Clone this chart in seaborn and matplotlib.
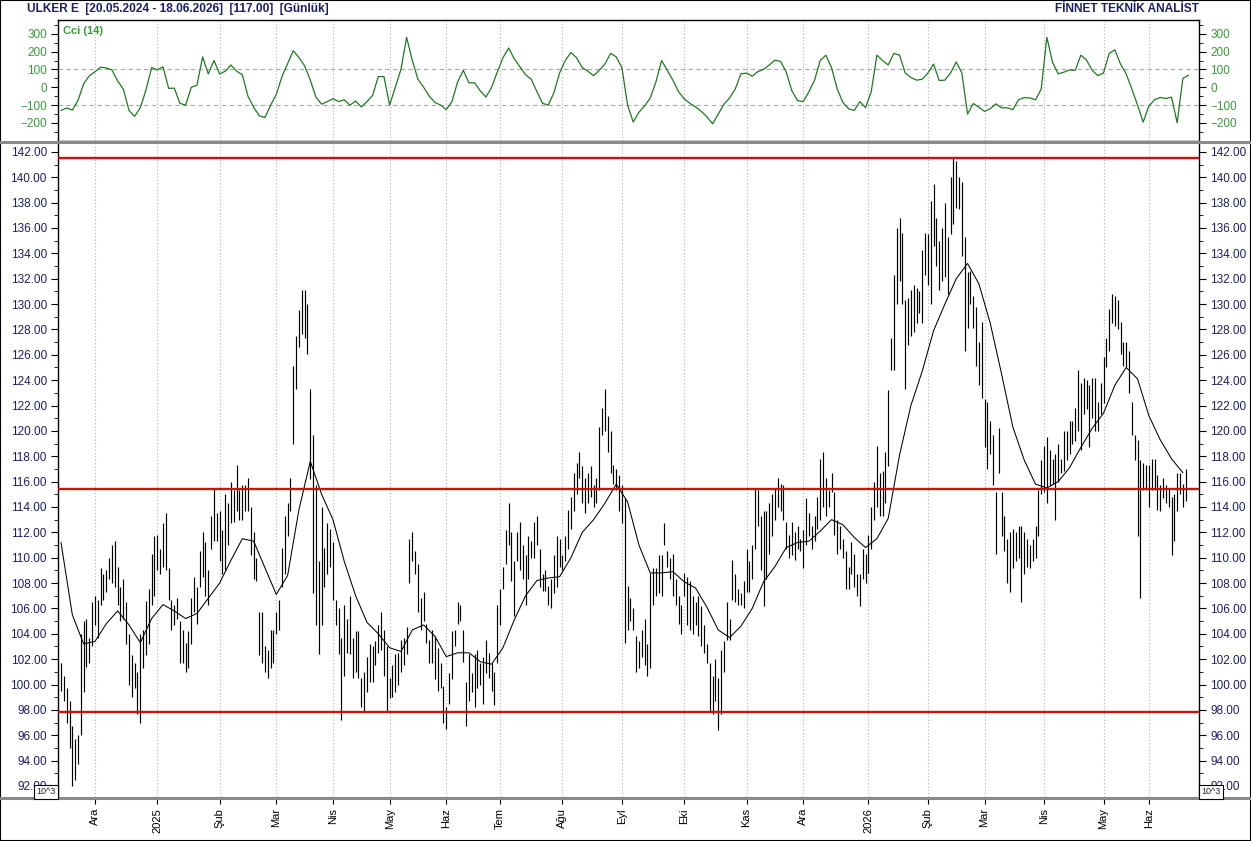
import numpy as np
import pandas as pd
import matplotlib
matplotlib.use("Agg")
import matplotlib.pyplot as plt
from matplotlib.lines import Line2D
from matplotlib.patches import Rectangle
import seaborn as sns

# ---- data ----
month_labels = ["Ara", "2025", "Şub", "Mar", "Nis", "May", "Haz", "Tem", "Ağu", "Eyl",
                "Eki", "Kas", "Ara", "2026", "Şub", "Mar", "Nis", "May", "Haz"]
# trading days per month segment (first one = end of Nov 2024)
month_bars = [12, 22, 22, 20, 20, 20, 20, 19, 22, 21, 22, 22, 20, 23, 21, 20, 21, 21, 16, 14]

# daily (low, high) bars
bars_hl = [
    # Nov 2024
    (99.5, 101.7), (98.7, 100.7), (97.0, 99.7), (95.0, 98.7), (92.0, 96.7), (92.5, 95.7),
    (93.7, 96.0), (96.0, 104.0), (99.4, 105.0), (101.4, 105.2), (101.7, 103.7), (103.0, 106.5),
    # Dec 2024
    (104.7, 107.0), (103.7, 106.7), (106.3, 109.2), (106.7, 108.7), (107.3, 109.0), (108.3, 110.0),
    (108.0, 111.0), (107.7, 111.3), (106.3, 109.3), (105.0, 107.7), (105.2, 108.3), (103.2, 106.5),
    (100.0, 104.0), (99.0, 102.3), (99.7, 101.7), (97.7, 101.0), (97.0, 104.0), (101.3, 104.3),
    (102.3, 106.6), (103.2, 107.5), (106.3, 110.3), (107.0, 111.7),
    # Jan 2025
    (109.0, 111.8), (108.7, 110.7), (109.3, 112.7), (109.0, 113.5), (106.7, 109.2), (104.3, 106.7),
    (104.7, 106.3), (105.2, 106.8), (101.7, 105.0), (101.7, 104.3), (101.0, 103.3), (101.3, 104.2),
    (103.2, 106.8), (105.7, 108.5), (104.8, 107.7), (107.7, 110.5), (108.5, 112.0), (107.0, 111.2),
    (106.3, 109.0), (110.7, 113.3), (111.3, 115.5), (111.3, 113.5),
    # Feb 2025
    (109.7, 113.7), (108.7, 112.2), (109.0, 115.0), (111.0, 114.3), (112.7, 116.0), (112.8, 115.3),
    (113.7, 117.3), (113.0, 115.3), (113.0, 115.7), (113.7, 115.7), (113.7, 116.3), (110.2, 114.0),
    (108.3, 112.0), (108.2, 110.0), (102.3, 105.7), (101.7, 105.7), (101.0, 103.0), (100.5, 102.7),
    (101.3, 104.3), (101.7, 104.3),
    # Mar 2025
    (104.0, 105.7), (104.3, 106.7), (107.7, 110.8), (108.7, 113.3), (111.7, 114.3), (113.7, 116.3),
    (119.0, 125.1), (123.3, 127.5), (126.6, 129.5), (127.6, 131.1), (127.3, 131.1), (126.1, 130.0),
    (116.2, 123.3), (107.2, 119.7), (104.7, 115.7), (102.4, 109.7), (104.7, 114.0), (107.7, 110.8),
    (108.7, 112.7), (109.3, 112.3),
    # Apr 2025
    (106.7, 111.2), (104.7, 106.7), (102.4, 106.0), (97.2, 103.7), (100.7, 106.3), (102.5, 105.2),
    (102.4, 107.0), (100.5, 103.7), (101.0, 104.2), (100.5, 104.2), (98.2, 100.5), (97.9, 101.0),
    (99.4, 102.2), (100.2, 103.2), (100.2, 103.0), (101.5, 103.4), (102.5, 104.7), (102.7, 105.7),
    (100.7, 104.3), (97.9, 103.0),
    # May 2025
    (98.9, 100.5), (99.0, 101.5), (99.4, 102.4), (100.0, 102.5), (101.0, 103.5), (101.5, 103.7),
    (102.4, 104.5), (108.0, 111.5), (109.7, 112.0), (108.7, 110.5), (105.7, 109.5), (104.3, 106.8),
    (105.0, 107.3), (103.3, 104.8), (101.7, 103.5), (101.7, 104.3), (100.4, 103.8), (99.5, 102.9),
    (99.7, 101.7), (97.0, 99.9),
    # Jun 2025
    (96.5, 98.2), (98.5, 100.9), (100.4, 104.2), (103.0, 104.3), (104.8, 106.5), (105.0, 106.3),
    (101.8, 104.3), (96.7, 100.2), (98.7, 102.4), (99.4, 100.9), (98.2, 102.4), (99.7, 102.7),
    (100.0, 101.7), (98.5, 102.2), (100.9, 103.5), (100.5, 102.5), (99.5, 101.7), (98.4, 101.0),
    (101.7, 106.3),
    # Jul 2025
    (104.7, 107.5), (107.5, 109.3), (109.5, 112.2), (111.0, 114.3), (108.2, 112.0), (105.4, 109.7),
    (109.7, 112.0), (109.0, 112.8), (108.3, 111.0), (106.3, 110.2), (108.3, 111.7), (110.0, 111.3),
    (110.0, 112.8), (111.0, 113.3), (107.7, 110.7), (107.4, 108.7), (107.4, 109.0), (106.3, 107.8),
    (106.0, 108.3), (107.2, 110.2), (107.7, 111.7), (109.3, 111.5),
    # Aug 2025
    (109.0, 110.2), (109.7, 111.7), (110.7, 113.8), (112.3, 114.8), (113.7, 116.7), (115.0, 117.5),
    (116.3, 118.3), (114.3, 117.2), (113.5, 116.3), (114.3, 116.7), (114.8, 117.2), (114.0, 115.7),
    (114.3, 116.3), (115.3, 120.3), (119.7, 121.8), (120.0, 123.3), (118.3, 121.2), (116.7, 120.0),
    (115.8, 117.3), (115.3, 117.0), (113.7, 116.5),
    # Sep 2025
    (112.7, 115.7), (103.3, 114.7), (104.3, 107.8), (105.0, 106.8), (104.3, 106.0), (101.0, 103.8),
    (101.3, 103.4), (102.2, 104.3), (101.5, 105.2), (100.7, 103.2), (101.3, 108.8), (106.3, 109.2),
    (107.0, 109.2), (107.2, 110.2), (107.0, 110.2), (111.0, 112.7), (109.3, 110.5), (108.3, 110.0),
    (107.0, 110.3), (106.3, 108.3), (104.8, 107.0), (104.0, 106.3),
    # Oct 2025
    (107.0, 108.8), (104.7, 108.5), (104.3, 108.2), (104.0, 107.0), (104.7, 106.5), (103.8, 107.0),
    (103.0, 106.2), (102.5, 104.7), (101.7, 103.2), (97.9, 101.7), (97.7, 100.7), (98.7, 102.0),
    (96.4, 100.5), (97.7, 102.7), (101.0, 103.4), (103.5, 106.5), (103.5, 105.2), (106.7, 109.8),
    (106.5, 108.7), (106.3, 107.5), (106.3, 107.2), (106.0, 108.2),
    # Nov 2025
    (107.3, 110.7), (107.3, 109.7), (108.3, 111.0), (110.7, 115.5), (112.5, 115.3), (109.0, 113.3),
    (106.2, 113.7), (108.3, 113.7), (110.3, 114.3), (111.7, 115.0), (113.0, 115.5), (114.0, 116.3),
    (113.7, 115.8), (113.0, 115.7), (110.7, 112.8), (110.0, 111.8), (110.2, 112.8), (109.8, 112.0),
    (110.7, 112.5), (110.5, 111.5),
    # Dec 2025
    (109.2, 112.2), (111.0, 114.7), (111.7, 113.5), (110.7, 112.5), (111.3, 113.3), (112.3, 114.8),
    (113.0, 117.8), (114.0, 118.3), (113.3, 116.3), (114.0, 115.3), (115.2, 116.7), (111.8, 115.2),
    (110.3, 113.0), (110.7, 112.5), (110.0, 111.5), (107.5, 110.5), (107.5, 109.3), (108.7, 111.2),
    (107.7, 110.3), (107.0, 108.7), (106.2, 108.7), (108.3, 110.7), (108.0, 110.3),
    # Jan 2026
    (108.8, 111.8), (110.7, 114.0), (113.0, 116.0), (114.0, 118.8), (113.3, 116.7), (113.3, 116.8),
    (114.3, 118.3), (117.2, 123.2), (124.8, 127.3), (124.8, 132.3), (130.0, 136.0), (131.8, 136.8),
    (130.0, 135.6), (123.3, 130.3), (126.8, 130.5), (127.5, 131.1), (127.8, 131.5), (128.5, 131.3),
    (129.3, 131.0), (128.5, 134.3), (132.3, 135.6),
    # Feb 2026
    (131.5, 135.5), (130.0, 138.1), (134.6, 139.5), (133.0, 136.8), (131.1, 135.0), (131.8, 136.0),
    (132.1, 138.0), (130.8, 135.3), (135.5, 140.0), (136.3, 141.5), (137.6, 141.3), (137.5, 140.0),
    (133.8, 139.6), (126.3, 135.3), (128.1, 132.5), (130.0, 132.6), (128.1, 130.6), (125.1, 129.8),
    (123.6, 127.0), (122.6, 128.6),
    # Mar 2026
    (118.7, 122.5), (117.0, 122.3), (118.2, 120.8), (115.7, 119.7), (110.3, 115.2), (116.7, 120.2),
    (111.7, 115.2), (110.5, 113.3), (108.0, 111.5), (107.3, 112.0), (109.2, 112.3), (109.7, 112.0),
    (110.0, 112.5), (106.5, 112.5), (108.7, 112.0), (109.3, 111.5), (109.2, 111.0), (109.7, 111.5),
    (110.0, 112.5), (111.7, 115.3), (115.0, 117.7),
    # Apr 2026
    (115.2, 118.8), (114.3, 119.5), (115.7, 118.5), (115.8, 117.8), (113.0, 118.2), (116.0, 119.0),
    (116.7, 117.8), (116.8, 120.0), (117.7, 120.0), (118.2, 120.8), (119.0, 120.8), (119.2, 121.8),
    (120.0, 124.8), (118.5, 123.8), (121.3, 124.2), (121.7, 124.0), (118.7, 123.6), (121.0, 124.2),
    (120.0, 124.2), (120.0, 122.3), (121.3, 123.8),
    # May 2026
    (122.2, 125.8), (125.0, 127.3), (126.3, 129.6), (128.5, 130.8), (128.3, 130.6), (128.0, 130.3),
    (126.1, 128.6), (125.1, 127.0), (125.0, 127.0), (123.0, 126.3), (119.7, 122.3), (117.7, 119.7),
    (111.7, 119.3), (106.8, 117.7), (115.3, 117.5), (115.3, 117.3),
    # Jun 2026
    (114.0, 117.3), (115.3, 117.8), (115.3, 117.8), (113.8, 116.5), (113.7, 115.7), (114.7, 116.3),
    (114.3, 115.7), (114.0, 115.5), (110.2, 114.8), (111.3, 115.0), (113.7, 116.7), (115.0, 116.7),
    (114.0, 115.8), (114.5, 117.0),
]

# moving average, read every 4th bar
ma_every4 = [
    111.2, 105.5, 103.2, 103.4, 104.8, 105.8, 104.7, 103.3, 105.2, 106.3,
    105.8, 105.2, 105.6, 106.8, 108.0, 109.8, 111.5, 111.3, 109.2, 107.1,
    108.6, 113.8, 117.6, 115.0, 113.0, 109.7, 107.0, 104.9, 104.0, 102.9,
    102.6, 104.3, 104.7, 103.8, 102.2, 102.5, 102.5, 101.8, 101.6, 102.9,
    105.1, 107.0, 108.2, 108.4, 108.5, 110.0, 112.0, 113.0, 114.3, 115.8,
    114.4, 111.0, 108.8, 108.8, 108.9, 108.1, 107.6, 106.1, 104.3, 103.7,
    104.6, 106.0, 108.1, 109.3, 110.8, 111.2, 111.3, 112.1, 113.0, 112.6,
    111.6, 110.8, 111.5, 113.1, 118.1, 122.0, 124.7, 127.9, 130.0, 132.0,
    133.2, 131.6, 128.5, 124.5, 120.3, 117.7, 115.8, 115.5, 116.0, 117.1,
    118.7, 120.2, 121.4, 123.6, 125.0, 124.1, 121.2, 119.3, 117.8, 116.7,
]

# CCI(14), read every 2nd bar
cci_every2 = [
    -130, -116, -128, -74, 20, 64, 87, 113, 108, 97,
    35, -10, -130, -163, -114, -15, 110, 97, 115, -6,
    -5, -90, -100, 0, 12, 170, 75, 150, 75, 90,
    125, 90, 70, -50, -112, -160, -170, -100, -40, 60,
    132, 205, 166, 120, 40, -55, -95, -80, -64, -80,
    -70, -100, -77, -110, -80, -45, 60, 60, -100, 0,
    100, 280, 150, 45, 0, -50, -85, -100, -125, -80,
    30, 95, 25, 25, -20, -55, 0, 85, 165, 220,
    160, 115, 70, 45, -25, -90, -100, -30, 80, 150,
    195, 165, 110, 90, 65, 95, 130, 190, 170, 110,
    -100, -195, -140, -105, -60, 30, 150, 95, 40, -25,
    -65, -90, -110, -135, -165, -205, -150, -95, -60, -10,
    75, 80, 62, 88, 100, 125, 152, 145, 85, -20,
    -75, -80, -25, 40, 150, 180, 110, -10, -85, -120,
    -130, -80, -114, -25, 180, 150, 125, 190, 180, 80,
    55, 40, 45, 80, 130, 38, 40, 80, 142, 80,
    -150, -91, -112, -135, -120, -93, -115, -115, -125, -70,
    -58, -60, -70, -10, 280, 140, 75, 85, 97, 95,
    180, 152, 95, 65, 80, 190, 210, 130, 75, -10,
    -100, -195, -105, -70, -57, -63, -55, -199, 50, 68,
]

levels = [141.5, 115.4, 97.8]

# ---- frames ----
bars = pd.DataFrame(bars_hl, columns=["low", "high"])
bars["i"] = np.arange(len(bars))
ma = pd.DataFrame({"i": np.arange(len(ma_every4)) * 4, "ma": ma_every4})
cci = pd.DataFrame({"i": np.arange(len(cci_every2)) * 2, "cci": cci_every2})
month_ticks = np.cumsum(month_bars)[:-1]

sns.set_style("white")
plt.rcParams["font.family"] = ["Liberation Sans", "DejaVu Sans"]

W, H = 1251, 841
fig = plt.figure(figsize=(W / 100, H / 100), dpi=100)
fig.patch.set_facecolor("white")

def box(x0, y0, x1, y1):
    return [x0 / W, 1 - y1 / H, (x1 - x0) / W, (y1 - y0) / H]

ax_cci = fig.add_axes(box(58, 20, 1199, 141))
ax = fig.add_axes(box(58, 143, 1199, 797), sharex=ax_cci)

navy = "#1c1f66"
green = "#3a9a3a"
grid_kw = dict(color="#b0b0b0", lw=0.8, ls=(0, (1, 2)), zorder=0)

# ---- CCI panel ----
for t in month_ticks:
    ax_cci.axvline(t, **grid_kw)
for v in (100, -100):
    ax_cci.axhline(v, color="#a8a8a8", lw=0.8, ls=(0, (4, 3)), zorder=0)
sns.lineplot(data=cci, x="i", y="cci", ax=ax_cci, color="#1f7a1f", lw=0.9)
ax_cci.set_ylim(-301, 377)
ax_cci.set_yticks(np.arange(-200, 301, 100))
ax_cci.set_yticks(np.arange(-250, 351, 50), minor=True)
ax_cci.tick_params(axis="y", which="both", left=True, right=True, labelleft=True,
                   labelright=True, labelsize=8.5, labelcolor=green, direction="out",
                   color="black", pad=3)
ax_cci.tick_params(axis="y", which="major", length=5)
ax_cci.tick_params(axis="y", which="minor", length=3)
ax_cci.tick_params(axis="x", which="both", bottom=False, labelbottom=False)
ax_cci.set_xlabel("")
ax_cci.set_ylabel("")
ax_cci.text(0.004, 0.95, "Cci (14)", transform=ax_cci.transAxes, color=green,
            fontsize=8, fontweight="bold", va="top", ha="left")
for s in ax_cci.spines.values():
    s.set_color("black")
    s.set_linewidth(1.0)

# ---- price panel ----
for t in month_ticks:
    ax.axvline(t, **grid_kw)
ax.vlines(bars["i"], bars["low"], bars["high"], color="black", lw=0.85, zorder=2)
sns.lineplot(data=ma, x="i", y="ma", ax=ax, color="black", lw=0.75, zorder=3)
for lv in levels:
    ax.axhline(lv, color="#cc1111", lw=1.7, zorder=4)

ax.set_xlim(-1.06, 401.7)
ax.set_ylim(91.13, 142.7)
yt = np.arange(92, 143, 2)
ax.set_yticks(yt)
ax.set_yticklabels([f"{v:.2f}" for v in yt])
ax.set_yticks(np.arange(92, 143, 1), minor=True)
ax.tick_params(axis="y", which="both", left=True, right=True, labelleft=True,
               labelright=True, labelsize=8.5, labelcolor=navy, direction="out",
               color="black", pad=3)
ax.tick_params(axis="y", which="major", length=5)
ax.tick_params(axis="y", which="minor", length=3)
ax.set_xticks(month_ticks)
ax.set_xticklabels(month_labels, rotation=90, fontsize=8)
ax.tick_params(axis="x", which="major", bottom=True, length=5, direction="out",
               color="black", pad=3, labelcolor="black")
ax.set_xlabel("")
ax.set_ylabel("")
for s in ax.spines.values():
    s.set_color("black")
    s.set_linewidth(1.0)
ax.spines["bottom"].set_visible(False)
ax.spines["top"].set_visible(False)

# separators spanning the full width
fig.add_artist(Line2D([0, 1], [1 - 142 / H] * 2, transform=fig.transFigure,
                      color="#8a8a8a", lw=2.2))
fig.add_artist(Line2D([0, 1], [1 - 798 / H] * 2, transform=fig.transFigure,
                      color="#8a8a8a", lw=2.2))

# "10^3" markers, drawn over the lowest price label as in the original
for xc in (46, 1211):
    fig.text(xc / W, 1 - 792 / H, "10^3", fontsize=6.5, ha="center", va="center",
             zorder=10,
             bbox=dict(boxstyle="square,pad=0.25", fc="white", ec="black", lw=0.8))

# header
fig.text(27 / W, 1 - 9 / H, "ULKER E  [20.05.2024 - 18.06.2026]  [117.00]  [Günlük]",
         fontsize=8.6, fontweight="bold", color=navy, ha="left", va="center")
fig.text(1199 / W, 1 - 9 / H, "FİNNET TEKNİK ANALİST", fontsize=8.6, fontweight="bold",
         color=navy, ha="right", va="center")

fig.add_artist(Rectangle((0, 0), 1, 1, transform=fig.transFigure, fill=False,
                         ec="black", lw=1.5))

fig.savefig("out.png", dpi=100)
